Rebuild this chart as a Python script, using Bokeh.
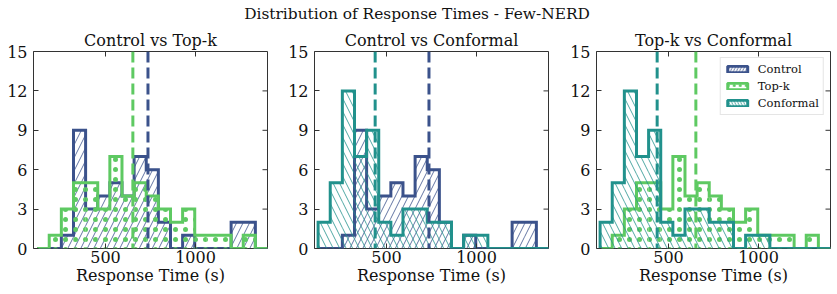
import numpy as np
from bokeh.plotting import figure
from bokeh.models import (Range1d, Span, Legend, LegendItem,
                          FixedTicker, ColumnDataSource)
from bokeh.layouts import column, row
from bokeh.embed import file_html
from bokeh.resources import INLINE
from bokeh.core.properties import value

# ---------------- data ----------------
suptitle = "Distribution of Response Times - Few-NERD"
panel_titles = ["Control vs Top-k", "Control vs Conformal", "Top-k vs Conformal"]
panel_series = [["Control", "Top-k"], ["Control", "Conformal"], ["Top-k", "Conformal"]]
series_names = ["Control", "Top-k", "Conformal"]

bin_start = 120
bin_end = 1400
n_bins = 19

control_counts = [0, 0, 1, 9, 3, 4, 5, 4, 7, 6, 2, 0, 1, 0, 0, 0, 2, 2, 0]
topk_counts = [0, 1, 3, 5, 5, 3, 7, 4, 5, 4, 3, 2, 3, 1, 1, 1, 0, 1, 0]
conformal_counts = [2, 5, 12, 7, 9, 2, 1, 3, 3, 2, 2, 0, 1, 1, 0, 0, 0, 0, 0]

control_mean = 736
topk_mean = 652
conformal_mean = 437

x_ticks = [500, 1000]
y_ticks = [0, 3, 6, 9, 12, 15]
x_limits = (100, 1400)
y_limits = (0, 15)
x_label = "Response Time (s)"

# ---------------- styles ----------------
FONT = "DejaVu Serif"
TXT = "#111111"
colors = {"Control": "#3b528b", "Top-k": "#5ec962", "Conformal": "#21918c"}
hatches = {"Control": "right_diagonal_line", "Top-k": "dot", "Conformal": "left_diagonal_line"}
hatch_scales = {"Control": 13, "Top-k": 10, "Conformal": 13}
hatch_weights = {"Control": 0.8, "Top-k": 0.6, "Conformal": 0.8}
counts = {"Control": control_counts, "Top-k": topk_counts, "Conformal": conformal_counts}
means = {"Control": control_mean, "Top-k": topk_mean, "Conformal": conformal_mean}

edges = np.linspace(bin_start, bin_end, n_bins + 1)

fig_widths = [282, 282, 272]
left_borders = [33, 32, 32]
right_borders = [15, 16, 6]
STRIP_H = 24
FIG_H = 270
TICK_PX = 5
FRAME_W_PX = 234
FRAME_H_PX = 197


def outline(edges, h):
    xs, ys = [edges[0]], [0]
    for i, c in enumerate(h):
        xs += [edges[i], edges[i + 1]]
        ys += [c, c]
    xs.append(edges[-1])
    ys.append(0)
    return xs, ys


panels = []
for k in range(3):
    p = figure(width=fig_widths[k], height=FIG_H, output_backend="svg",
               toolbar_location=None, x_range=Range1d(*x_limits),
               y_range=Range1d(*y_limits), min_border_left=left_borders[k],
               min_border_right=right_borders[k], min_border_top=27,
               min_border_bottom=46, title=panel_titles[k])
    p.title.text_font = FONT
    p.title.text_font_size = "16px"
    p.title.text_font_style = "normal"
    p.title.text_color = TXT
    p.title.align = "center"
    p.title.standoff = 3
    p.grid.visible = False
    p.outline_line_color = "#333333"
    p.outline_line_width = 1
    p.background_fill_color = "white"

    for ax in (p.xaxis[0], p.yaxis[0]):
        ax.axis_line_color = None
        ax.major_tick_in = TICK_PX
        ax.major_tick_out = 0
        ax.minor_tick_line_color = None
        ax.major_tick_line_color = "#333333"
        ax.major_label_text_font = FONT
        ax.major_label_text_font_size = "16px"
        ax.major_label_text_color = TXT
    p.xaxis[0].ticker = FixedTicker(ticks=x_ticks)
    p.yaxis[0].ticker = FixedTicker(ticks=y_ticks)
    p.xaxis[0].major_label_standoff = 2
    p.yaxis[0].major_label_standoff = 6
    p.xaxis[0].axis_label = x_label
    p.xaxis[0].axis_label_text_font = FONT
    p.xaxis[0].axis_label_text_font_size = "16px"
    p.xaxis[0].axis_label_text_font_style = "normal"
    p.xaxis[0].axis_label_text_color = TXT
    p.xaxis[0].axis_label_standoff = 0
    p.xaxis[0].axis_label_text_line_height = 0.9
    p.xaxis[0].major_label_text_line_height = 0.9

    # inward ticks on the top and right frame edges
    x_tick_len = TICK_PX * (x_limits[1] - x_limits[0]) / FRAME_W_PX
    y_tick_len = TICK_PX * (y_limits[1] - y_limits[0]) / FRAME_H_PX
    p.segment(x0=x_ticks, x1=x_ticks, y0=[y_limits[1]] * len(x_ticks),
              y1=[y_limits[1] - y_tick_len] * len(x_ticks),
              line_color="#333333", line_width=1)
    p.segment(x0=[x_limits[1]] * len(y_ticks),
              x1=[x_limits[1] - x_tick_len] * len(y_ticks),
              y0=y_ticks, y1=y_ticks, line_color="#333333", line_width=1)

    for name in panel_series[k]:
        h = counts[name]
        src = ColumnDataSource(dict(left=edges[:-1], right=edges[1:],
                                    top=h, bottom=[0] * len(h)))
        p.quad(left="left", right="right", top="top", bottom="bottom",
               source=src, fill_color=None, line_color=None,
               hatch_pattern=hatches[name], hatch_color=colors[name],
               hatch_scale=hatch_scales[name], hatch_weight=hatch_weights[name])
        xs, ys = outline(edges, h)
        p.line(xs, ys, line_color=colors[name], line_width=3, line_join="miter")

    for name in panel_series[k]:
        p.add_layout(Span(location=means[name], dimension="height",
                          line_color=colors[name], line_width=3,
                          line_dash="11 5"))

    if k == 2:
        items = []
        for name in series_names:
            r = p.quad(left=[np.nan], right=[np.nan], top=[np.nan], bottom=[np.nan],
                       fill_color="white", line_color=colors[name], line_width=3,
                       hatch_pattern=hatches[name], hatch_color=colors[name],
                       hatch_scale=6, hatch_weight=hatch_weights[name])
            items.append(LegendItem(label=name, renderers=[r]))
        leg = Legend(items=items, location="top_right")
        leg.label_text_font = FONT
        leg.label_text_font_size = "11.5px"
        leg.label_text_color = TXT
        leg.glyph_width = 25
        leg.glyph_height = 8
        leg.label_standoff = 8
        leg.label_height = 14
        leg.spacing = 3
        leg.padding = 4
        leg.margin = 6
        leg.border_line_color = "#cccccc"
        leg.border_line_width = 1
        leg.background_fill_alpha = 0.85
        p.add_layout(leg)
    panels.append(p)

# suptitle strip
t = figure(width=836, height=STRIP_H, output_backend="svg", toolbar_location=None,
           x_range=Range1d(0, 836), y_range=Range1d(0, STRIP_H), min_border=0)
t.axis.visible = False
t.grid.visible = False
t.outline_line_color = None
t.title.visible = False
t.text(x=[416.5], y=[STRIP_H - 13], text=[suptitle], text_align="center",
       text_baseline="middle", text_font=value(FONT), text_font_size="15.4px",
       text_color=TXT)

layout = column(t, row(*panels))
open("out.html", "w").write(file_html(layout, INLINE))
